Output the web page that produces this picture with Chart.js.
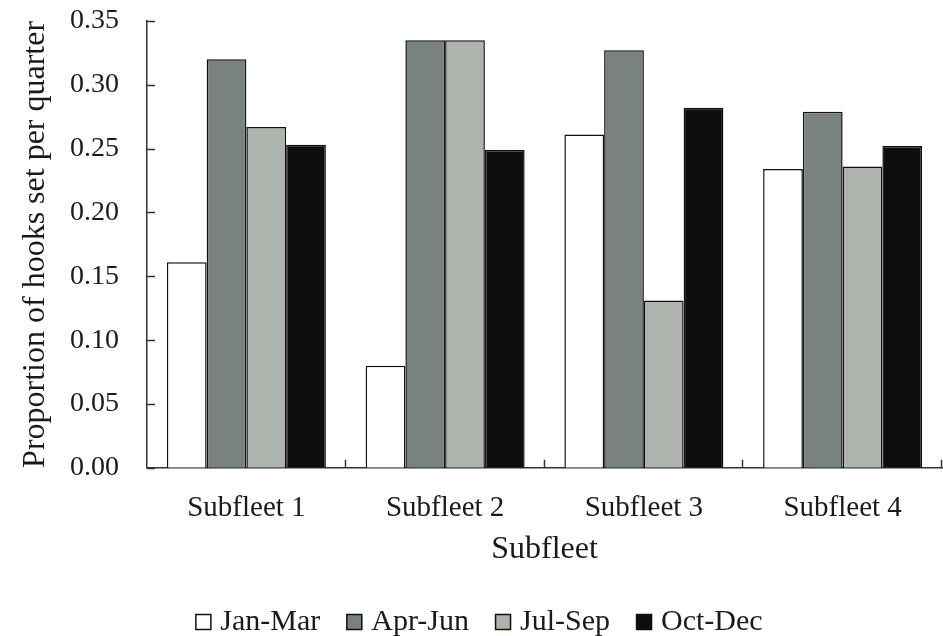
<!DOCTYPE html>
<html>
<head>
<meta charset="utf-8">
<script src="https://cdn.jsdelivr.net/npm/chart.js@4.4.1/dist/chart.umd.min.js"></script>
<style>
html,body{margin:0;padding:0;background:#fff;}
#wrap{width:943px;height:636px;position:relative;}
</style>
</head>
<body>
<div id="wrap"><canvas id="c"></canvas></div>
<script>
const categories = ["Subfleet 1", "Subfleet 2", "Subfleet 3", "Subfleet 4"];
const seriesNames = ["Jan-Mar", "Apr-Jun", "Jul-Sep", "Oct-Dec"];
const janMar = [0.161, 0.080, 0.261, 0.234];
const aprJun = [0.320, 0.335, 0.327, 0.279];
const julSep = [0.267, 0.335, 0.131, 0.236];
const octDec = [0.253, 0.249, 0.282, 0.252];
const seriesColors = ["#ffffff", "#7a8181", "#adb3ad", "#0d0f0d"];
const yTicks = [0, 0.05, 0.10, 0.15, 0.20, 0.25, 0.30, 0.35];

const FONT = "'Liberation Serif', 'Times New Roman', serif";
const ink = "#1a1a1a";

const innerTicks = {
  id: 'innerTicks',
  afterDraw(chart) {
    const ctx = chart.ctx;
    const x = chart.scales.x, y = chart.scales.y;
    ctx.save();
    ctx.strokeStyle = "#333";
    ctx.lineWidth = 1.5;
    y.ticks.forEach((t, i) => {
      const py = Math.round(y.getPixelForTick(i)) + 0.5;
      ctx.beginPath(); ctx.moveTo(y.right, py); ctx.lineTo(y.right + 8, py); ctx.stroke();
    });
    const half = (x.getPixelForValue(1) - x.getPixelForValue(0)) / 2;
    for (let i = 0; i < categories.length; i++) {
      const px = Math.round(x.getPixelForValue(i) + half) - 0.5;
      ctx.beginPath(); ctx.moveTo(px, x.top); ctx.lineTo(px, x.top - 8); ctx.stroke();
    }
    ctx.restore();
  }
};

const data = {
  labels: categories,
  datasets: [janMar, aprJun, julSep, octDec].map((vals, i) => ({
    label: seriesNames[i],
    data: vals,
    backgroundColor: seriesColors[i],
    borderColor: "#111",
    borderWidth: 1.5,
    barPercentage: 1.0,
    categoryPercentage: 0.8
  }))
};

new Chart(document.getElementById('c'), {
  type: 'bar',
  data,
  plugins: [innerTicks],
  options: {
    responsive: true,
    maintainAspectRatio: false,
    animation: false,
    layout: { padding: { top: 21, right: 1, left: 22, bottom: -11 } },
    plugins: {
      legend: {
        position: 'bottom',
        labels: {
          font: { family: FONT, size: 30 },
          color: ink,
          usePointStyle: true,
          boxWidth: 4,
          boxHeight: 15,
          padding: 32,
          generateLabels(chart) {
            return chart.data.datasets.map((ds, i) => ({
              text: ds.label,
              fillStyle: ds.backgroundColor,
              strokeStyle: "#111",
              lineWidth: 1.5,
              pointStyle: 'rect',
              datasetIndex: i,
              fontColor: ink
            }));
          }
        }
      },
      tooltip: { enabled: false }
    },
    scales: {
      x: {
        grid: { display: false, drawTicks: false },
        border: { display: true, color: "#333", width: 1.5 },
        ticks: { font: { family: FONT, size: 29 }, color: ink, padding: 23 },
        title: { display: true, text: "Subfleet", font: { family: FONT, size: 32 }, color: ink, padding: { top: -18, bottom: 6 } }
      },
      y: {
        min: 0, max: 0.35,
        afterBuildTicks(scale) { scale.ticks = yTicks.map(v => ({ value: v })); },
        afterFit(scale) { scale.width = 125; scale.paddingTop = 0; scale.paddingBottom = 0; },
        grid: { display: false, drawTicks: false },
        border: { display: true, color: "#333", width: 1.5 },
        ticks: { font: { family: FONT, size: 28 }, color: ink, padding: 28, callback: v => Number(v).toFixed(2) },
        title: { display: true, text: "Proportion of hooks set per quarter", font: { family: FONT, size: 32 }, color: ink, padding: { top: -6, bottom: 0 } }
      }
    }
  }
});
</script>
</body>
</html>
